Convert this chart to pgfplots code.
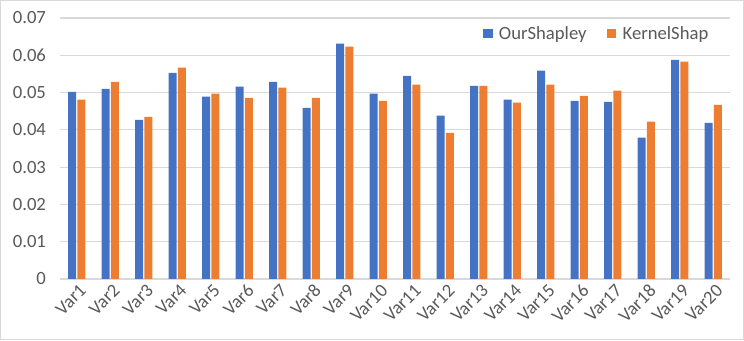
\documentclass[border=0pt]{standalone}
\usepackage{fontspec}
\setmainfont{Carlito}
\usepackage{pgfplots}
\pgfplotsset{compat=1.18}
\definecolor{xlblue}{HTML}{4472C4}
\definecolor{xlorange}{HTML}{ED7D31}
\definecolor{xlgrid}{HTML}{D9D9D9}
\definecolor{xltext}{HTML}{595959}
\begin{document}
\begin{tikzpicture}
\begin{axis}[
  scale only axis,
  width=502.5pt, height=195.75pt,
  ybar=1pt, bar width=6pt,
  xmin=0.5, xmax=20.5, ymin=0, ymax=0.07,
  xtick={1,...,20},
  xticklabels={Var1,Var2,Var3,Var4,Var5,Var6,Var7,Var8,Var9,Var10,Var11,Var12,Var13,Var14,Var15,Var16,Var17,Var18,Var19,Var20},
  ytick={0,0.01,...,0.07},
  yticklabels={0,0.01,0.02,0.03,0.04,0.05,0.06,0.07},
  scaled y ticks=false,
  axis line style={draw=none},
  major tick length=0pt,
  ymajorgrids, grid style={xlgrid, line width=0.8pt},
  tick label style={font=\fontsize{14}{16}\selectfont, text=xltext},
  xticklabel style={rotate=45, anchor=north east, inner sep=1pt, yshift=-2pt},
  yticklabel style={xshift=-7pt},
  clip=false,
  legend columns=2,
  legend style={draw=none, fill=none, font=\fontsize{14}{16}\selectfont, text=xltext,
    at={(0.978,0.99)}, anchor=north east,
    /tikz/every even column/.append style={column sep=13pt}},
  legend image code/.code={\fill[#1] (0pt,-3.6pt) rectangle (7.2pt,3.6pt);
    \path (0pt,0pt) -- (10pt,0pt);},
]
\addplot[fill=xlblue, draw=none] coordinates {
  (1,0.0502)(2,0.0510)(3,0.0427)(4,0.0553)(5,0.0489)
  (6,0.0516)(7,0.0529)(8,0.0459)(9,0.0631)(10,0.0497)
  (11,0.0545)(12,0.0438)(13,0.0518)(14,0.0481)(15,0.0559)
  (16,0.0478)(17,0.0475)(18,0.0379)(19,0.0588)(20,0.0419)};
\addlegendentry{OurShapley}
\addplot[fill=xlorange, draw=none] coordinates {
  (1,0.0481)(2,0.0529)(3,0.0435)(4,0.0567)(5,0.0497)
  (6,0.0486)(7,0.0513)(8,0.0486)(9,0.0623)(10,0.0478)
  (11,0.0521)(12,0.0392)(13,0.0518)(14,0.0473)(15,0.0521)
  (16,0.0491)(17,0.0505)(18,0.0422)(19,0.0583)(20,0.0467)};
\addlegendentry{KernelShap}
\draw[xlgrid, line width=0.8pt] ([xshift=-44.6pt,yshift=-45.4pt]rel axis cs:0,0)
  rectangle ([xshift=10.1pt,yshift=13.1pt]rel axis cs:1,1);
\end{axis}
\end{tikzpicture}
\end{document}
